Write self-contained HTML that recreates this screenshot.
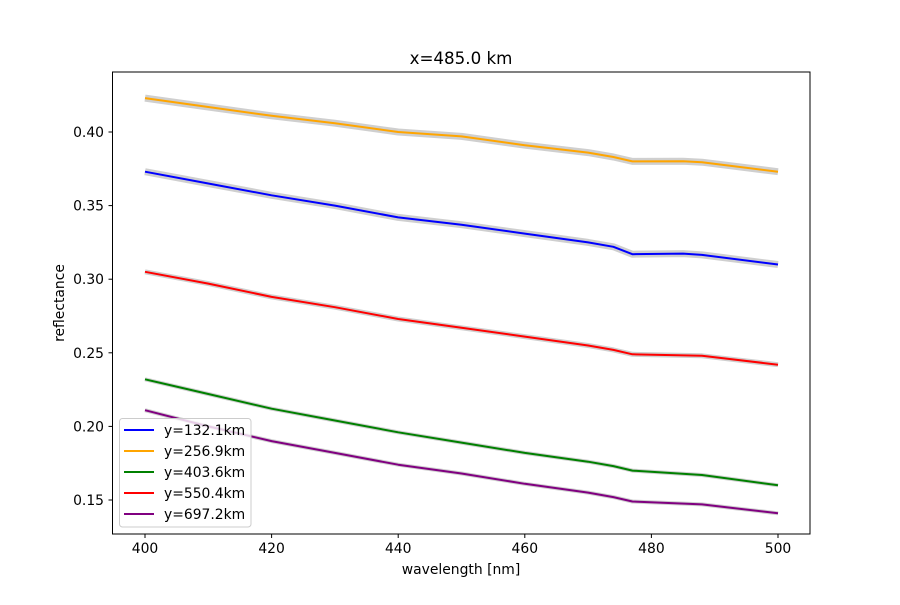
<!DOCTYPE html><html><head><style>body{margin:0;background:#fff}svg text{font-family:"DejaVu Sans","Liberation Sans",sans-serif;fill:#000}</style></head><body>
<svg width="900" height="600" viewBox="0 0 900 600" xmlns="http://www.w3.org/2000/svg">
<rect width="900" height="600" fill="#fff"/>
<g fill="none" stroke-linejoin="round">
<g stroke="#bbb" stroke-opacity="0.7" stroke-width="7">
<polyline points="145,171.7 208.3,183.5 271.6,195.3 334.9,205.6 398.2,217.4 461.5,224.7 524.8,233.6 588.1,242.4 613.4,246.8 632.4,254.2 683.1,253.6 702,254.9 778,264.5"/>
<polyline points="145,98.1 208.3,107 271.6,115.8 334.9,123.2 398.2,132 461.5,136.4 524.8,145.2 588.1,152.6 613.4,157 632.4,161.4 683.1,161.2 702,162.2 778,171.7"/>
<polyline points="145,271.8 208.3,283.6 271.6,296.9 334.9,307.2 398.2,319 461.5,327.8 524.8,336.6 588.1,345.5 613.4,349.9 632.4,354.3 702,355.8 778,364.7" stroke-width="5"/>
<polyline points="145,379.3 208.3,394 271.6,408.7 334.9,420.5 398.2,432.3 461.5,442.6 524.8,452.9 588.1,461.7 613.4,466.1 632.4,470.6 702,475 778,485.3" stroke-width="4"/>
<polyline points="145,410.2 208.3,426.4 271.6,441.1 334.9,452.9 398.2,464.7 461.5,473.5 524.8,483.8 588.1,492.6 613.4,497.1 632.4,501.5 702,504.4 778,513.3" stroke-width="4"/>
</g>
<g stroke-width="2">
<polyline stroke="#0000ff" points="145,171.7 208.3,183.5 271.6,195.3 334.9,205.6 398.2,217.4 461.5,224.7 524.8,233.6 588.1,242.4 613.4,246.8 632.4,254.2 683.1,253.6 702,254.9 778,264.5"/>
<polyline stroke="#ffa500" points="145,98.1 208.3,107 271.6,115.8 334.9,123.2 398.2,132 461.5,136.4 524.8,145.2 588.1,152.6 613.4,157 632.4,161.4 683.1,161.2 702,162.2 778,171.7"/>
<polyline stroke="#008000" points="145,379.3 208.3,394 271.6,408.7 334.9,420.5 398.2,432.3 461.5,442.6 524.8,452.9 588.1,461.7 613.4,466.1 632.4,470.6 702,475 778,485.3"/>
<polyline stroke="#ff0000" points="145,271.8 208.3,283.6 271.6,296.9 334.9,307.2 398.2,319 461.5,327.8 524.8,336.6 588.1,345.5 613.4,349.9 632.4,354.3 702,355.8 778,364.7"/>
<polyline stroke="#800080" points="145,410.2 208.3,426.4 271.6,441.1 334.9,452.9 398.2,464.7 461.5,473.5 524.8,483.8 588.1,492.6 613.4,497.1 632.4,501.5 702,504.4 778,513.3"/>
</g></g>
<rect x="112.5" y="72" width="697.5" height="462" fill="none" stroke="#000" stroke-width="1"/>
<g stroke="#000" stroke-width="1">
<line x1="145" y1="534" x2="145" y2="538"/><line x1="271.6" y1="534" x2="271.6" y2="538"/><line x1="398.2" y1="534" x2="398.2" y2="538"/><line x1="524.8" y1="534" x2="524.8" y2="538"/><line x1="651.4" y1="534" x2="651.4" y2="538"/><line x1="778" y1="534" x2="778" y2="538"/>
<line x1="108.5" y1="500" x2="112.5" y2="500"/><line x1="108.5" y1="426.4" x2="112.5" y2="426.4"/><line x1="108.5" y1="352.8" x2="112.5" y2="352.8"/><line x1="108.5" y1="279.2" x2="112.5" y2="279.2"/><line x1="108.5" y1="205.6" x2="112.5" y2="205.6"/><line x1="108.5" y1="132" x2="112.5" y2="132"/>
</g>
<g font-size="13.9" text-anchor="middle">
<text x="145" y="553">400</text><text x="271.6" y="553">420</text><text x="398.2" y="553">440</text><text x="524.8" y="553">460</text><text x="651.4" y="553">480</text><text x="778" y="553">500</text>
<text x="461" y="574">wavelength [nm]</text>
<text x="461" y="64" font-size="16.7">x=485.0 km</text>
<text transform="translate(64,303) rotate(-90)">reflectance</text>
</g>
<g font-size="13.9" text-anchor="end">
<text x="104" y="505">0.15</text><text x="104" y="431.4">0.20</text><text x="104" y="357.8">0.25</text><text x="104" y="284.2">0.30</text><text x="104" y="210.6">0.35</text><text x="104" y="137">0.40</text>
</g>
<rect x="119.5" y="418.5" width="131.5" height="108.5" rx="3" fill="#fff" fill-opacity="0.8" stroke="#ccc"/>
<g stroke-width="2">
<line x1="124" y1="430" x2="154" y2="430" stroke="#0000ff"/>
<line x1="124" y1="451" x2="154" y2="451" stroke="#ffa500"/>
<line x1="124" y1="472" x2="154" y2="472" stroke="#008000"/>
<line x1="124" y1="493" x2="154" y2="493" stroke="#ff0000"/>
<line x1="124" y1="514" x2="154" y2="514" stroke="#800080"/>
</g>
<g font-size="13.9">
<text x="164" y="435">y=132.1km</text><text x="164" y="456">y=256.9km</text><text x="164" y="477">y=403.6km</text><text x="164" y="498">y=550.4km</text><text x="164" y="519">y=697.2km</text>
</g>
</svg></body></html>
